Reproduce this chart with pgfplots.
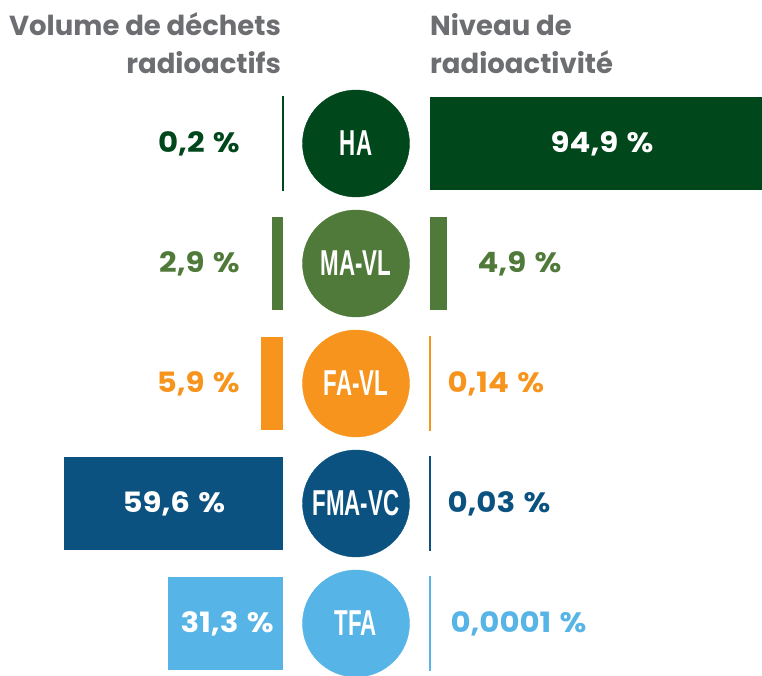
\documentclass[border=0pt]{standalone}
\usepackage{pgfplots}
\pgfplotsset{compat=1.18}
\usepackage{fontspec}
\setmainfont{Liberation Sans}
\newfontfamily\valfont{Poppins}[FakeStretch=1.1]
\newfontfamily\ttlfont{Poppins}
\newfontfamily\circfont{Liberation Sans}[FakeStretch=0.62]
\definecolor{cHA}{RGB}{0,71,27}
\definecolor{cMA}{RGB}{80,122,58}
\definecolor{cFA}{RGB}{247,148,29}
\definecolor{cFMA}{RGB}{11,82,128}
\definecolor{cTFA}{RGB}{86,180,230}
\definecolor{ctitle}{RGB}{109,110,113}
\pgfplotsset{
  base/.style={scale only axis, height=675pt, ymin=-0.4292, ymax=5.1958,
    hide axis, clip=false},
  barax/.style={base, xbar, bar width=0.775, bar shift=0pt},
  circplot/.style={only marks, mark=*, mark size=53.5pt, color=#1,
    nodes near coords align=center,
    every node near coord/.append style={circ, anchor=center}},
}
\tikzset{
  val/.style={font=\valfont\bfseries\fontsize{28}{28}\selectfont},
  ttl/.style={text=ctitle, font=\ttlfont\bfseries\fontsize{27.5}{27.5}\selectfont, inner sep=0pt},
  circ/.style={text=white, font=\circfont\bfseries\fontsize{36}{36}\selectfont},
}
\newcommand{\pc}{\hspace{0.3em}\%}
\begin{document}
\begin{tikzpicture}
\path[use as bounding box] (0pt,0pt) rectangle (762pt,675pt);
% left: volume
\begin{axis}[barax, width=283pt, xmin=0, xmax=77.03, x dir=reverse,
  at={(0pt,0pt)}, anchor=south west]
\addplot[fill=cHA, draw=cHA, line width=1.2pt] coordinates {(0.2,4)};
\addplot[fill=cMA, draw=none] coordinates {(2.9,3)};
\addplot[fill=cFA, draw=none] coordinates {(5.9,2)};
\addplot[fill=cFMA, draw=none] coordinates {(59.6,1)};
\addplot[fill=cTFA, draw=none] coordinates {(31.3,0)};
\node[val, anchor=east, text=cHA] at (axis cs:10.8,4) {0,2\pc};
\node[val, anchor=east, text=cMA] at (axis cs:10.8,3) {2,9\pc};
\node[val, anchor=east, text=cFA] at (axis cs:10.8,2) {5,9\pc};
\node[val, text=white] at (axis cs:29.7,1) {59,6\pc};
\node[val, text=white] at (axis cs:15.2,0) {31,3\pc};
\node[ttl, anchor=base east] at (axis cs:0.5,4.90) {Volume de déchets};
\node[ttl, anchor=base east] at (axis cs:0.5,4.587) {radioactifs};
\end{axis}
% middle: circles
\begin{axis}[base, width=106pt, xmin=-1, xmax=1, at={(303pt,0pt)}, anchor=south west]
\addplot[circplot=cHA, nodes near coords={HA}] coordinates {(0,4)};
\addplot[circplot=cMA, nodes near coords={MA-VL}] coordinates {(0,3)};
\addplot[circplot=cFA, nodes near coords={FA-VL}] coordinates {(0,2)};
\addplot[circplot=cFMA, nodes near coords={FMA-VC}] coordinates {(0,1)};
\addplot[circplot=cTFA, nodes near coords={TFA}] coordinates {(0,0)};
\end{axis}
% right: radioactivity
\begin{axis}[barax, width=332pt, xmin=0, xmax=94.9,
  at={(430pt,0pt)}, anchor=south west]
\addplot[fill=cHA, draw=none] coordinates {(94.9,4)};
\addplot[fill=cMA, draw=none] coordinates {(4.9,3)};
\addplot[fill=cFA, draw=cFA, line width=1.2pt] coordinates {(0.14,2)};
\addplot[fill=cFMA, draw=cFMA, line width=1.2pt] coordinates {(0.03,1)};
\addplot[fill=cTFA, draw=cTFA, line width=1.2pt] coordinates {(0.0001,0)};
\node[val, text=white] at (axis cs:49.2,4) {94,9\pc};
\node[val, anchor=west, text=cMA] at (axis cs:12.6,3) {4,9\pc};
\node[val, anchor=west, text=cFA] at (axis cs:4.0,2) {0,14\pc};
\node[val, anchor=west, text=cFMA] at (axis cs:4.0,1) {0,03\pc};
\node[val, anchor=west, text=cTFA] at (axis cs:4.86,0) {0,0001\pc};
\node[ttl, anchor=base west] at (axis cs:0,4.90) {Niveau de};
\node[ttl, anchor=base west] at (axis cs:0,4.587) {radioactivité};
\end{axis}
\end{tikzpicture}
\end{document}
